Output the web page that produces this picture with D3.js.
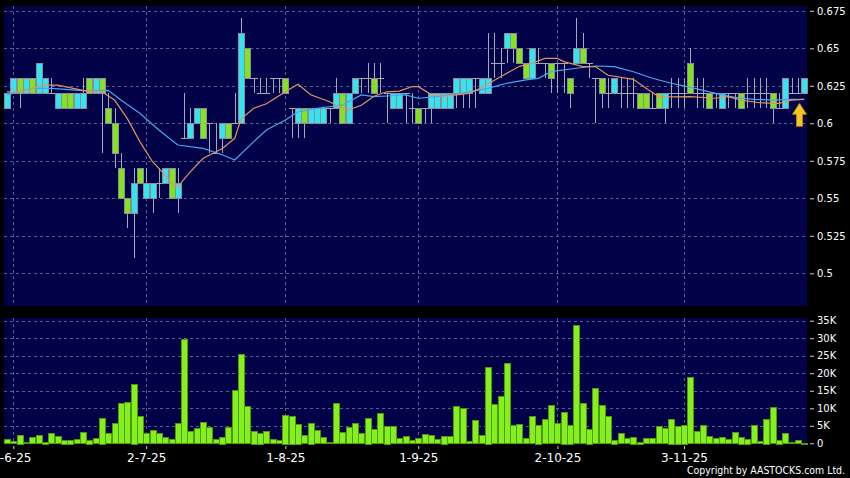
<!DOCTYPE html>
<html>
<head>
<meta charset="utf-8">
<script src="https://cdn.jsdelivr.net/npm/d3@7"></script>
<style>
  body { margin: 0; background: #000; }
  svg { display: block; }
</style>
</head>
<body>
<div id="chart"></div>
<script>
// daily candles, 30-5-25 .. 28-11-25
var open = [.61,.62,.63,.62,.63,.62,.62,.62,.61,.62, .62,.61,.61,.63,.62,.63,.61,.60,.57,.55,
  .54,.57,.55,.55,.56,.56,.57,.55,.59,.59, .60,.61,.60,.58,.59,.60,.60,.60,.65,.63,
  .62,.62,.63,.63,.63,.61,.60,.61,.60,.60, .60,.61,.61,.62,.60,.62,.63,.63,.63,.63,
  .62,.61,.61,.62,.61,.61,.61,.61,.61,.61, .61,.62,.62,.62,.63,.62,.62,.64,.64,.65,
  .66,.65,.64,.63,.64,.64,.64,.64,.64,.63, .64,.65,.64,.63,.63,.62,.62,.62,.62,.62,
  .62,.62,.61,.62,.61,.62,.62,.62,.64,.62, .62,.62,.62,.61,.62,.62,.62,.62,.62,.62,
  .62,.62,.61,.61,.62,.62,.62]
var high = [.62,.63,.63,.63,.63,.64,.63,.63,.62,.62, .62,.62,.63,.63,.63,.63,.62,.61,.58,.55,
  .57,.57,.57,.56,.57,.57,.57,.57,.62,.61, .61,.61,.60,.60,.60,.60,.62,.67,.65,.63,
  .63,.63,.63,.63,.63,.61,.61,.61,.61,.61, .61,.61,.63,.62,.62,.63,.63,.64,.64,.64,
  .62,.62,.62,.62,.62,.61,.61,.62,.62,.62, .62,.63,.63,.63,.63,.63,.66,.66,.65,.66,
  .66,.65,.64,.65,.65,.64,.64,.64,.64,.63, .67,.66,.64,.63,.63,.63,.63,.63,.63,.63,
  .62,.62,.62,.62,.62,.63,.63,.63,.65,.63, .63,.62,.62,.62,.62,.62,.62,.63,.63,.63,
  .63,.62,.62,.63,.63,.63,.63]
var low = [.61,.62,.61,.62,.62,.62,.62,.62,.61,.61, .61,.61,.61,.62,.62,.58,.60,.57,.55,.53,
  .51,.56,.55,.54,.55,.56,.55,.54,.59,.59, .60,.59,.58,.58,.58,.59,.60,.60,.63,.62,
  .62,.62,.62,.62,.62,.59,.59,.59,.60,.60, .60,.60,.61,.60,.60,.62,.62,.62,.62,.62,
  .60,.61,.61,.60,.60,.60,.60,.60,.61,.61, .61,.61,.61,.61,.61,.62,.62,.63,.63,.64,
  .64,.64,.63,.63,.64,.63,.62,.62,.62,.61, .64,.64,.63,.60,.61,.61,.62,.61,.61,.61,
  .61,.61,.61,.61,.60,.61,.61,.61,.62,.61, .61,.61,.61,.61,.61,.61,.61,.61,.61,.61,
  .61,.60,.61,.61,.62,.62,.62]
var close = [.62,.63,.62,.63,.62,.64,.63,.62,.62,.61, .61,.62,.62,.62,.63,.62,.60,.58,.55,.54,
  .56,.56,.56,.56,.56,.57,.55,.56,.59,.60, .61,.59,.60,.58,.60,.59,.60,.66,.63,.63,
  .62,.62,.63,.63,.62,.61,.61,.60,.61,.61, .61,.61,.62,.60,.62,.63,.63,.63,.62,.63,
  .62,.62,.62,.62,.61,.60,.61,.62,.62,.62, .62,.63,.63,.63,.63,.63,.63,.64,.64,.66,
  .65,.64,.63,.65,.64,.64,.63,.64,.64,.62, .65,.64,.64,.63,.62,.62,.63,.62,.62,.62,
  .61,.61,.61,.61,.62,.62,.62,.62,.62,.62, .62,.61,.62,.62,.62,.62,.61,.62,.62,.62,
  .62,.61,.61,.63,.62,.62,.63]
// volume in thousands
var volume = [1.1,0.7,2.5,0.3,1.8,2.3,0.5,2.9,2.1,1.0, 1.0,1.2,3.1,1.0,1.5,7.3,2.9,5.8,11.4,11.8,
  17.0,7.8,2.9,3.8,2.9,1.8,1.2,5.7,29.7,3.5, 4.3,6.1,4.6,1.2,1.9,4.6,15.1,25.4,10.6,3.6,
  3.0,3.4,1.2,0.9,8.2,7.9,5.6,2.4,5.9,3.8, 1.8,0.4,11.5,3.1,4.6,5.7,2.9,7.3,4.1,8.7,
  5.0,4.9,1.5,2.0,0.9,1.5,2.6,2.4,1.2,2.2, 2.0,10.6,10.1,0.6,6.7,2.3,21.9,11.2,13.5,22.8,
  5.2,5.5,1.5,7.8,5.3,6.9,10.8,5.8,9.0,5.3, 33.7,11.5,4.2,15.7,10.8,7.8,1.0,2.9,1.5,1.9,
  0.5,1.4,1.5,4.9,4.4,7.0,5.0,5.3,18.8,3.5, 5.1,2.1,1.5,1.8,1.2,3.1,1.9,1.3,5.1,0.6,
  7.0,10.4,1.0,2.9,0.3,0.8,0.2]

// moving averages (candle index, price)
var maShortIdx = [0,2,6,8,12,15,17,19,21,23,25,26,27,29,31,34,36,37,39,41,44,46,48,51,52,54,56,58,60,62,
  64,65,67,69,73,75,78,81,83,85,87,88,91,93,95,99,101,103,105,108,112,114,116,119,122,124,126]
var maShortVal = [.621,.621,.6255,.6255,.622,.621,.6155,.6033,.5878,.5744,.5655,.56,.5578,.5678,.5767,.583,.59,.603,.61,.613,
  .621,.626,.619,.6144,.612,.609,.612,.618,.621,.6215,.6244,.6244,.6193,.618,.62,.6237,.631,.638,.64,.6433,
  .6433,.6411,.6378,.6378,.632,.6293,.6233,.6178,.6176,.6178,.6167,.6178,.6155,.6137,.6133,.6155,.616]
var maLongIdx = [0,4,7,12,16,18,21,24,27,31,34,36,39,41,44,46,49,53,56,58,60,63,65,68,73,76,79,82,84,86,
  90,93,96,99,102,105,108,112,115,118,121,124,126]
var maLongVal = [.619,.6233,.6233,.6218,.622,.6155,.6067,.5955,.5855,.5833,.579,.5755,.5878,.5955,.6022,.6077,.61,.6122,.6189,.6178,
  .6182,.619,.6167,.6178,.621,.6233,.6267,.6289,.63,.6344,.6367,.6382,.6378,.6344,.63,.6267,.624,.62,.6173,.616,
  .6155,.616,.616]

var priceTicks = [0.5, 0.525, 0.55, 0.575, 0.6, 0.625, 0.65, 0.675]
var volTicks = [0, 5, 10, 15, 20, 25, 30, 35]
var dateIdx = [1, 22, 44, 65, 87, 107]
var dateLabels = ["2-6-25", "2-7-25", "1-8-25", "1-9-25", "2-10-25", "3-11-25"]

var width = 850, height = 478
var left = 4, right = 807
var navy = "#020248", gridCol = "#5c5c8c"

var svg = d3.select("#chart")
  .append("svg")
    .attr("width", width)
    .attr("height", height)

svg.append("rect").attr("width", width).attr("height", height).attr("fill", "#000")

var x = d3.scaleLinear().domain([0, open.length - 1]).range([7, 804.2])
var y = d3.scaleLinear().domain([0.4782, 0.6782]).range([306, 6])
var yv = d3.scaleLinear().domain([0, 35.77]).range([443.3, 318])

// panels
svg.append("rect").attr("x", left).attr("y", 6).attr("width", right - left).attr("height", 300).attr("fill", navy)
svg.append("rect").attr("x", left).attr("y", 318).attr("width", right - left).attr("height", 126).attr("fill", navy)

// grid
var grid = svg.append("g")
  .attr("stroke", gridCol)
  .attr("stroke-width", 1)
  .attr("stroke-dasharray", "3,3")
  .attr("shape-rendering", "crispEdges")
grid.selectAll("hp").data(priceTicks).enter().append("line")
  .attr("x1", left).attr("x2", right)
  .attr("y1", function(d) { return Math.round(y(d)) + 0.5 })
  .attr("y2", function(d) { return Math.round(y(d)) + 0.5 })
grid.selectAll("hv").data(volTicks.slice(1)).enter().append("line")
  .attr("x1", left).attr("x2", right)
  .attr("y1", function(d) { return Math.round(yv(d)) + 0.5 })
  .attr("y2", function(d) { return Math.round(yv(d)) + 0.5 })
grid.selectAll("vp").data(dateIdx).enter().append("line")
  .attr("x1", function(d) { return Math.round(x(d)) + 0.5 })
  .attr("x2", function(d) { return Math.round(x(d)) + 0.5 })
  .attr("y1", 6).attr("y2", 306)
grid.selectAll("vv").data(dateIdx).enter().append("line")
  .attr("x1", function(d) { return Math.round(x(d)) + 0.5 })
  .attr("x2", function(d) { return Math.round(x(d)) + 0.5 })
  .attr("y1", 318).attr("y2", 444)

// candles
var idx = d3.range(open.length)
var candles = svg.append("g").attr("shape-rendering", "crispEdges")

candles.selectAll("wick").data(idx).enter().append("line")
  .attr("x1", function(i) { return Math.round(x(i)) + 0.5 })
  .attr("x2", function(i) { return Math.round(x(i)) + 0.5 })
  .attr("y1", function(i) { return y(high[i]) })
  .attr("y2", function(i) { return y(low[i]) })
  .attr("stroke", "#a8a8b4")
  .attr("stroke-width", 1)

candles.selectAll("doji").data(idx.filter(function(i) { return open[i] == close[i] })).enter().append("line")
  .attr("x1", function(i) { return Math.round(x(i)) - 3 })
  .attr("x2", function(i) { return Math.round(x(i)) + 4 })
  .attr("y1", function(i) { return Math.round(y(open[i])) + 0.5 })
  .attr("y2", function(i) { return Math.round(y(open[i])) + 0.5 })
  .attr("stroke", "#a8a8b4")
  .attr("stroke-width", 1)

candles.selectAll("body").data(idx.filter(function(i) { return open[i] != close[i] })).enter().append("rect")
  .attr("x", function(i) { return Math.round(x(i)) - 2.5 })
  .attr("y", function(i) { return Math.round(y(Math.max(open[i], close[i]))) + 0.5 })
  .attr("width", 6)
  .attr("height", function(i) { return Math.round(Math.abs(y(open[i]) - y(close[i]))) })
  .attr("fill", function(i) { return close[i] > open[i] ? "#36e4f0" : "#84e21e" })
  .attr("stroke", "#8c8c9c")
  .attr("stroke-width", 1)

// moving averages
var line = d3.line()
  .x(function(d) { return x(d[0]) })
  .y(function(d) { return y(d[1]) })
svg.append("path")
  .datum(d3.zip(maLongIdx, maLongVal))
  .attr("d", line)
  .attr("fill", "none")
  .attr("stroke", "#44aaee")
  .attr("stroke-width", 1.2)
svg.append("path")
  .datum(d3.zip(maShortIdx, maShortVal))
  .attr("d", line)
  .attr("fill", "none")
  .attr("stroke", "#e2925e")
  .attr("stroke-width", 1.2)

// arrow under the last candle
var last = open.length - 1
var ax = Math.round(x(last)) - 4.5
var at = y(low[last]) + 10
svg.append("path")
  .attr("d", "M" + ax + "," + at + " L" + (ax + 7) + "," + (at + 11) + " L" + (ax + 3) + "," + (at + 11) +
             " L" + (ax + 3) + "," + (at + 23) + " L" + (ax - 3) + "," + (at + 23) + " L" + (ax - 3) + "," + (at + 11) +
             " L" + (ax - 7) + "," + (at + 11) + " Z")
  .attr("fill", "#f6c426")
  .attr("stroke", "#c88a00")
  .attr("stroke-width", 0.8)

// volume bars
svg.append("g").attr("shape-rendering", "crispEdges")
  .selectAll("vol").data(idx).enter().append("rect")
  .attr("x", function(i) { return Math.round(x(i)) - 2.5 })
  .attr("y", function(i) { return Math.round(yv(volume[i])) + 0.5 })
  .attr("width", 6)
  .attr("height", function(i) { return Math.max(0, Math.round(yv(0) - yv(volume[i]))) })
  .attr("fill", "#86f01c")
  .attr("stroke", "#4e9a0e")
  .attr("stroke-width", 1)

// axes
var yAxis = svg.append("g")
  .attr("transform", "translate(810,0)")
  .call(d3.axisRight(y).tickValues(priceTicks).tickSize(4).tickPadding(3)
    .tickFormat(function(d) { return d3.format("")(+d.toFixed(3)) }))
var vAxis = svg.append("g")
  .attr("transform", "translate(810,0)")
  .call(d3.axisRight(yv).tickValues(volTicks).tickSize(4).tickPadding(3)
    .tickFormat(function(d) { return d ? d + "K" : "0" }))
var xAxis = svg.append("g")
  .attr("transform", "translate(0,446)")
  .call(d3.axisBottom(x).tickValues(dateIdx).tickSize(3).tickPadding(4)
    .tickFormat(function(d, i) { return dateLabels[i] }))

svg.selectAll(".domain").remove()
svg.selectAll(".tick line").attr("stroke", "#cfcfcf")
yAxis.selectAll("text").attr("fill", "#fff").style("font", "10px 'DejaVu Sans'")
vAxis.selectAll("text").attr("fill", "#fff").style("font", "10px 'DejaVu Sans'")
xAxis.selectAll("text").attr("fill", "#fff").style("font", "12px 'DejaVu Sans'")
// first date label sits partly off the left edge, as in the original
xAxis.select(".tick text").attr("dx", -2)

svg.append("text")
  .attr("x", 845).attr("y", 474)
  .attr("text-anchor", "end")
  .attr("textLength", 158)
  .attr("lengthAdjust", "spacingAndGlyphs")
  .attr("fill", "#fff")
  .style("font", "11px 'DejaVu Sans'")
  .text("Copyright by AASTOCKS.com Ltd.")
</script>
</body>
</html>
